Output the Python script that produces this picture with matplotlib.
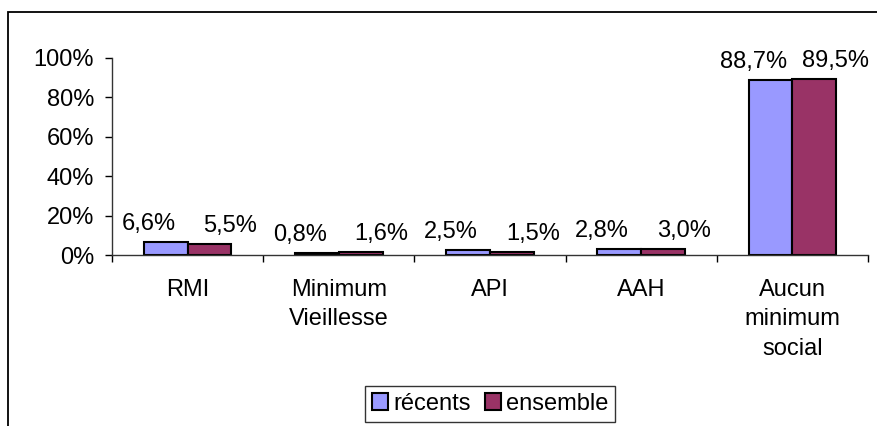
import matplotlib.pyplot as plt
import matplotlib.patches as patches
from matplotlib.ticker import PercentFormatter, FixedLocator
import numpy as np

plt.rcParams['font.family'] = ['Liberation Sans', 'DejaVu Sans']

# Données
categories = ['RMI', 'Minimum\nVieillesse', 'API', 'AAH', 'Aucun\nminimum\nsocial']
recents = [0.066, 0.008, 0.025, 0.028, 0.887]
ensemble = [0.055, 0.016, 0.015, 0.030, 0.895]
series_names = ['récents', 'ensemble']

fs = 17

fig = plt.figure(figsize=(8.77, 4.26), dpi=100)
ax = fig.add_axes([112 / 877, 1 - 255 / 426, (868 - 112) / 877, (255 - 58) / 426])

x = np.arange(len(categories))
w = 0.29
b1 = ax.bar(x - w / 2, recents, w, color='#9999FF', edgecolor='black', linewidth=1.5, label=series_names[0])
b2 = ax.bar(x + w / 2, ensemble, w, color='#993366', edgecolor='black', linewidth=1.5, label=series_names[1])

def lab(v):
    return f'{v * 100:.1f}%'.replace('.', ',')

# étiquettes de valeurs au-dessus des barres
for xi, v in zip(x, recents):
    ax.annotate(lab(v), (xi - w / 2, v), xytext=(-17, 7), textcoords='offset pixels',
                ha='center', va='bottom', fontsize=fs)
for xi, v in zip(x, ensemble):
    ax.annotate(lab(v), (xi + w / 2, v), xytext=(21, 7), textcoords='offset pixels',
                ha='center', va='bottom', fontsize=fs)

ax.set_xlim(-0.5, len(categories) - 0.5)
ax.set_ylim(0, 1)
ax.yaxis.set_major_formatter(PercentFormatter(1, decimals=0))
ax.set_yticks([0, 0.2, 0.4, 0.6, 0.8, 1.0])
ax.tick_params(axis='y', labelsize=fs, length=5, width=1, pad=8, direction='out')

ax.set_xticks(x)
ax.set_xticklabels(categories, fontsize=fs, linespacing=1.45)
ax.tick_params(axis='x', which='major', length=0, pad=17)
ax.xaxis.set_minor_locator(FixedLocator(np.arange(len(categories) + 1) - 0.5))
ax.tick_params(axis='x', which='minor', length=5, width=1, direction='out')

for s in ['top', 'right']:
    ax.spines[s].set_visible(False)
for s in ['left', 'bottom']:
    ax.spines[s].set_color('#333333')
    ax.spines[s].set_linewidth(1)

# cadre extérieur (seuls haut et gauche visibles)
fig.patches.append(patches.Rectangle((8 / 877, -0.2), 1.2, 0.2 + 1 - 12 / 426,
                                     transform=fig.transFigure, fill=False,
                                     edgecolor='black', linewidth=1.3))

leg = fig.legend(handles=[b1, b2], loc='center', bbox_to_anchor=(490 / 877, 1 - 404 / 426),
                 ncol=2, fontsize=fs, frameon=True, fancybox=False, shadow=False,
                 handlelength=0.7, handleheight=0.7, handletextpad=0.2, columnspacing=0.6,
                 borderpad=0.3, borderaxespad=0)
leg.get_frame().set_edgecolor('black')
leg.get_frame().set_linewidth(1)

fig.savefig('out.png', dpi=100)
